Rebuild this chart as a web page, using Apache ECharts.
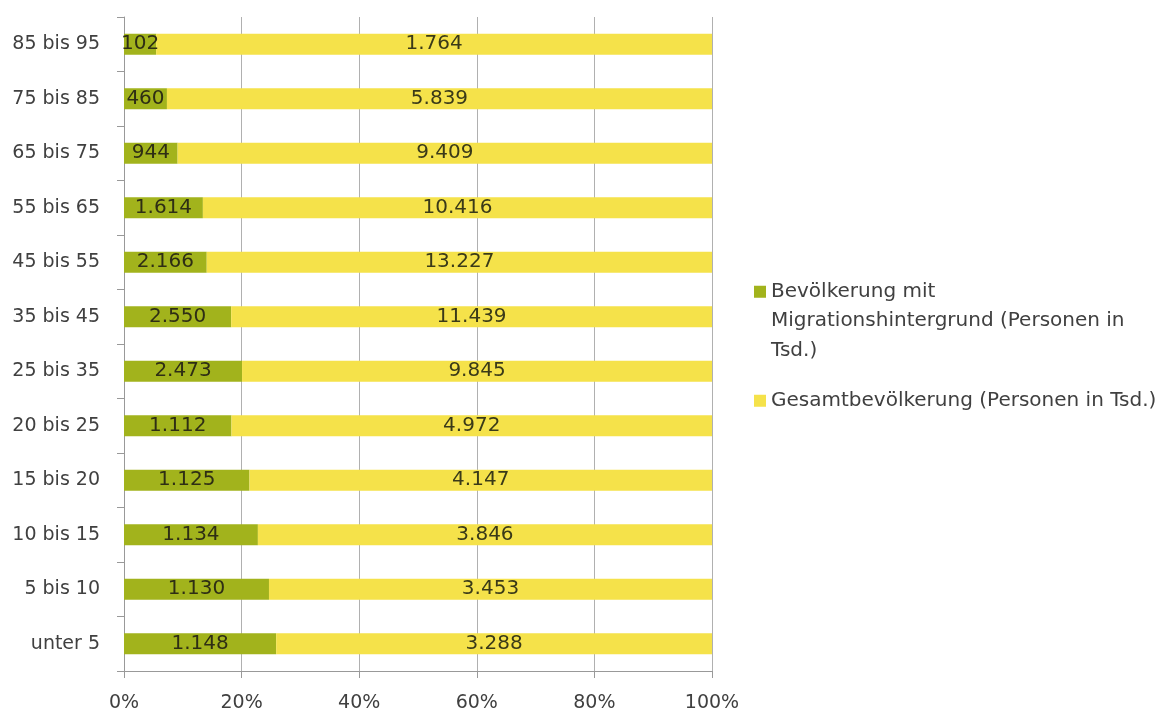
<!DOCTYPE html>
<html><head><meta charset="utf-8">
<script src="https://cdn.jsdelivr.net/npm/echarts@6/dist/echarts.min.js"></script>
<style>html,body{margin:0;padding:0;background:#fff}#c{width:1168px;height:718px}</style>
</head><body><div id="c"></div>
<script>
const categories = ['unter 5','5 bis 10','10 bis 15','15 bis 20','20 bis 25','25 bis 35','35 bis 45','45 bis 55','55 bis 65','65 bis 75','75 bis 85','85 bis 95'];
const migration = [1148,1130,1134,1125,1112,2473,2550,2166,1614,944,460,102];
const gesamt = [3288,3453,3846,4147,4972,9845,11439,13227,10416,9409,5839,1764];
const xTicks = [0,20,40,60,80,100];
const seriesNames = ['Bevölkerung mit\nMigrationshintergrund (Personen in\nTsd.)','Gesamtbevölkerung (Personen in Tsd.)'];

const fmt = v => String(v).replace(/\B(?=(\d{3})+(?!\d))/g, '.');
const share = (a, i) => a[i] / (migration[i] + gesamt[i]) * 100;
const migShare = migration.map((v, i) => share(migration, i));
const gesShare = gesamt.map((v, i) => share(gesamt, i));

const font = '"DejaVu Sans", sans-serif';
const GREEN = '#a2b31c', YELLOW = '#f5e24a';
const LH = 29.5;
const tallIcon = 'path://M0,0h0.05v0.05h-0.05z M0,8.75h12v12h-12z M0,88.45h0.05v0.05h-0.05z';
const chart = echarts.init(document.getElementById('c'));
chart.setOption({
  animation: false,
  textStyle: {fontFamily: font},
  grid: {left: 124, right: 456, top: 17, bottom: 47},
  legend: [
    {orient: 'vertical', left: 749, top: 272, itemWidth: 12, itemHeight: 88.5, itemGap: 0,
     icon: tallIcon,
     textStyle: {fontFamily: font, fontSize: 20, color: '#404040', lineHeight: LH},
     data: [seriesNames[0]]},
    {orient: 'vertical', left: 749, top: 381, itemWidth: 12, itemHeight: 12, itemGap: 0,
     icon: 'rect',
     textStyle: {fontFamily: font, fontSize: 20, color: '#404040', lineHeight: LH},
     data: [seriesNames[1]]}
  ],
  xAxis: {
    type: 'value', min: xTicks[0], max: xTicks[xTicks.length-1], interval: 20,
    axisLabel: {formatter: '{value}%', fontSize: 19, color: '#404040', margin: 23, fontFamily: font},
    axisLine: {show: true, lineStyle: {color: '#999'}},
    axisTick: {show: true, length: 7, lineStyle: {color: '#999'}},
    splitLine: {show: true, lineStyle: {color: '#b0b0b0'}}
  },
  yAxis: {
    type: 'category', data: categories,
    axisLabel: {fontSize: 19, color: '#404040', margin: 24, fontFamily: font},
    axisLine: {show: true, lineStyle: {color: '#999'}},
    axisTick: {show: true, length: 7, lineStyle: {color: '#999'}}
  },
  series: [
    {name: seriesNames[0], type: 'bar', stack: 't', data: migShare, barWidth: 21,
     itemStyle: {color: GREEN},
     label: {show: true, position: 'inside', color: '#2e2e14', fontSize: 20, fontFamily: font,
       formatter: p => fmt(migration[p.dataIndex])}},
    {name: seriesNames[1], type: 'bar', stack: 't', data: gesShare, barWidth: 21,
     itemStyle: {color: YELLOW},
     label: {show: true, position: 'inside', color: '#3a3a18', fontSize: 20, fontFamily: font,
       formatter: p => fmt(gesamt[p.dataIndex])}}
  ]
});
</script></body></html>
